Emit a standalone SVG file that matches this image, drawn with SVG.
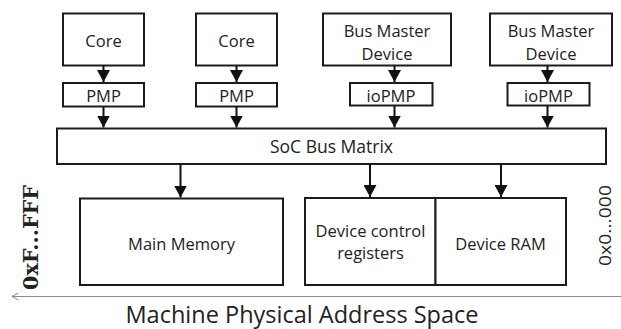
<svg xmlns="http://www.w3.org/2000/svg" width="621" height="329" viewBox="0 0 621 329">
  <defs>
    <style>
      .box { fill: #ffffff; stroke: #1c1c1c; stroke-width: 2; }
      .lbl { font-family: "Open Sans", Lato, sans-serif; fill: #222222; text-anchor: middle; }
      .s17 { font-size: 16.5px; }
      .wire { stroke: #111111; stroke-width: 2; fill: none; marker-end: url(#head); }
    </style>
    <marker id="head" viewBox="0 0 12 13" refX="12" refY="6.5" markerUnits="userSpaceOnUse" markerWidth="12" markerHeight="13" orient="auto">
      <path d="M0,0 L12,6.5 L0,13 Z" fill="#111111"/>
    </marker>
    <marker id="axisHead" viewBox="0 0 8 8" refX="7.5" refY="4" markerUnits="userSpaceOnUse" markerWidth="8" markerHeight="8" orient="auto">
      <path d="M1,0.5 L7.5,4 L1,7.5" fill="none" stroke="#8a8a8a" stroke-width="1"/>
    </marker>
  </defs>
  <rect width="621" height="329" fill="#ffffff"/>

  <!-- initiators -->
  <g id="core1"><rect class="box" x="63" y="13.5" width="81" height="52"/><text class="lbl s17" x="103.5" y="47">Core</text></g>
  <g id="core2"><rect class="box" x="196" y="13.5" width="81" height="52"/><text class="lbl s17" x="236.5" y="47">Core</text></g>
  <g id="busmaster1"><rect class="box" x="323" y="13.5" width="128" height="52"/><text class="lbl s17" x="387" y="36.5">Bus Master</text><text class="lbl s17" x="387" y="60">Device</text></g>
  <g id="busmaster2"><rect class="box" x="490" y="13.5" width="122" height="52"/><text class="lbl s17" x="551" y="36.5">Bus Master</text><text class="lbl s17" x="551" y="60">Device</text></g>

  <!-- protection units -->
  <g id="pmp1"><rect class="box" x="63" y="83" width="81" height="23.5"/><text class="lbl s17" x="103.5" y="102">PMP</text></g>
  <g id="pmp2"><rect class="box" x="196" y="83" width="81" height="23.5"/><text class="lbl s17" x="236.5" y="102">PMP</text></g>
  <g id="iopmp1"><rect class="box" x="350" y="83" width="82.5" height="22.5"/><text class="lbl s17" x="391" y="101.5">ioPMP</text></g>
  <g id="iopmp2"><rect class="box" x="507.5" y="83" width="82" height="22.5"/><text class="lbl s17" x="548.5" y="101.5">ioPMP</text></g>

  <!-- interconnect -->
  <g id="busmatrix"><rect class="box" x="57" y="128.5" width="549" height="35.5"/><text class="lbl" x="331.5" y="153" font-size="17.5">SoC Bus Matrix</text></g>

  <!-- targets -->
  <g id="mainmemory"><rect class="box" x="80" y="198.5" width="203" height="86.5"/><text class="lbl" x="181.5" y="250" font-size="16.5">Main Memory</text></g>
  <g id="devicectrl"><rect class="box" x="305" y="198" width="130.5" height="87"/><text class="lbl" x="370.5" y="237" font-size="16.5">Device control</text><text class="lbl" x="370.5" y="258.5" font-size="16.5">registers</text></g>
  <g id="deviceram"><rect class="box" x="435.5" y="198" width="130.5" height="87"/><text class="lbl" x="500.5" y="250" font-size="16.5">Device RAM</text></g>

  <!-- connectors -->
  <g id="connectors">
    <line class="wire" x1="103.5" y1="65.5" x2="103.5" y2="82"/>
    <line class="wire" x1="236.5" y1="65.5" x2="236.5" y2="82"/>
    <line class="wire" x1="394.5" y1="65.5" x2="394.5" y2="82"/>
    <line class="wire" x1="547.5" y1="65.5" x2="547.5" y2="82"/>
    <line class="wire" x1="103.5" y1="106.5" x2="103.5" y2="127.5"/>
    <line class="wire" x1="236.5" y1="106.5" x2="236.5" y2="127.5"/>
    <line class="wire" x1="394.5" y1="105.5" x2="394.5" y2="127.5"/>
    <line class="wire" x1="547.5" y1="105.5" x2="547.5" y2="127.5"/>
    <line class="wire" x1="180.5" y1="164" x2="180.5" y2="197.5"/>
    <line class="wire" x1="370" y1="164" x2="370" y2="197"/>
    <line class="wire" x1="501" y1="164" x2="501" y2="197"/>
  </g>

  <!-- address axis -->
  <g id="axis">
    <line x1="621" y1="296.5" x2="12" y2="296.5" stroke="#8a8a8a" stroke-width="1" marker-end="url(#axisHead)"/>
    <text x="0" y="0" transform="translate(37.5,290) rotate(-90)" font-family="'DejaVu Serif', serif" font-weight="bold" font-size="21" fill="#222222" textLength="105" lengthAdjust="spacingAndGlyphs">0xF...FFF</text>
    <text x="0" y="0" transform="translate(610.5,266) rotate(-90)" font-family="'Open Sans', sans-serif" font-size="17" fill="#222222" textLength="81" lengthAdjust="spacingAndGlyphs">0x0...000</text>
    <text class="lbl" x="302" y="323" font-size="23.5">Machine Physical Address Space</text>
  </g>
</svg>
